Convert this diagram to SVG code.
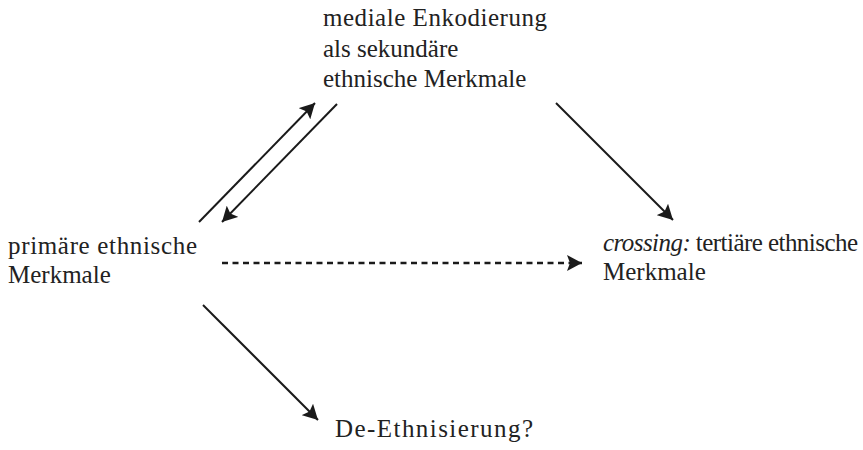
<svg xmlns="http://www.w3.org/2000/svg" width="863" height="450" viewBox="0 0 863 450">
<style>
.t{font-size:25px;fill:#222}
.c{stroke:#1a1a1a;stroke-width:2;fill:none}
.d{stroke-dasharray:6 4.5;stroke-width:2.4}
</style>
<defs>
<marker id="ah" markerUnits="userSpaceOnUse" markerWidth="16" markerHeight="16" refX="15" refY="8" orient="auto">
<path d="M0,0 L15,8 L0,16 L3,8 z" fill="#1a1a1a"/>
</marker>
</defs>
<rect width="863" height="450" fill="#fff"/>
<g id="connectors">
<line class="c" x1="199" y1="222" x2="315" y2="103" marker-end="url(#ah)"/>
<line class="c" x1="337" y1="104" x2="222" y2="222" marker-end="url(#ah)"/>
<line class="c" x1="556" y1="103" x2="673" y2="220" marker-end="url(#ah)"/>
<line class="c" x1="203" y1="305" x2="318" y2="420" marker-end="url(#ah)"/>
<line class="c d" x1="222" y1="263" x2="582" y2="263" marker-end="url(#ah)"/>
</g>
<g font-family="Liberation Serif, DejaVu Serif, serif">
<g id="sekundaer">
<text class="t" x="323" y="26" textLength="224">mediale Enkodierung</text>
<text class="t" x="323" y="57">als sekundäre</text>
<text class="t" x="323" y="87">ethnische Merkmale</text>
</g>
<g id="primaer">
<text class="t" x="8" y="254" textLength="189">primäre ethnische</text>
<text class="t" x="8" y="283">Merkmale</text>
</g>
<g id="tertiaer">
<text class="t" x="603" y="251" textLength="255"><tspan font-style="italic">crossing:</tspan> tertiäre ethnische</text>
<text class="t" x="603" y="280">Merkmale</text>
</g>
<g id="deethnisierung">
<text class="t" x="335" y="437" textLength="198">De-Ethnisierung?</text>
</g>
</g>
</svg>
